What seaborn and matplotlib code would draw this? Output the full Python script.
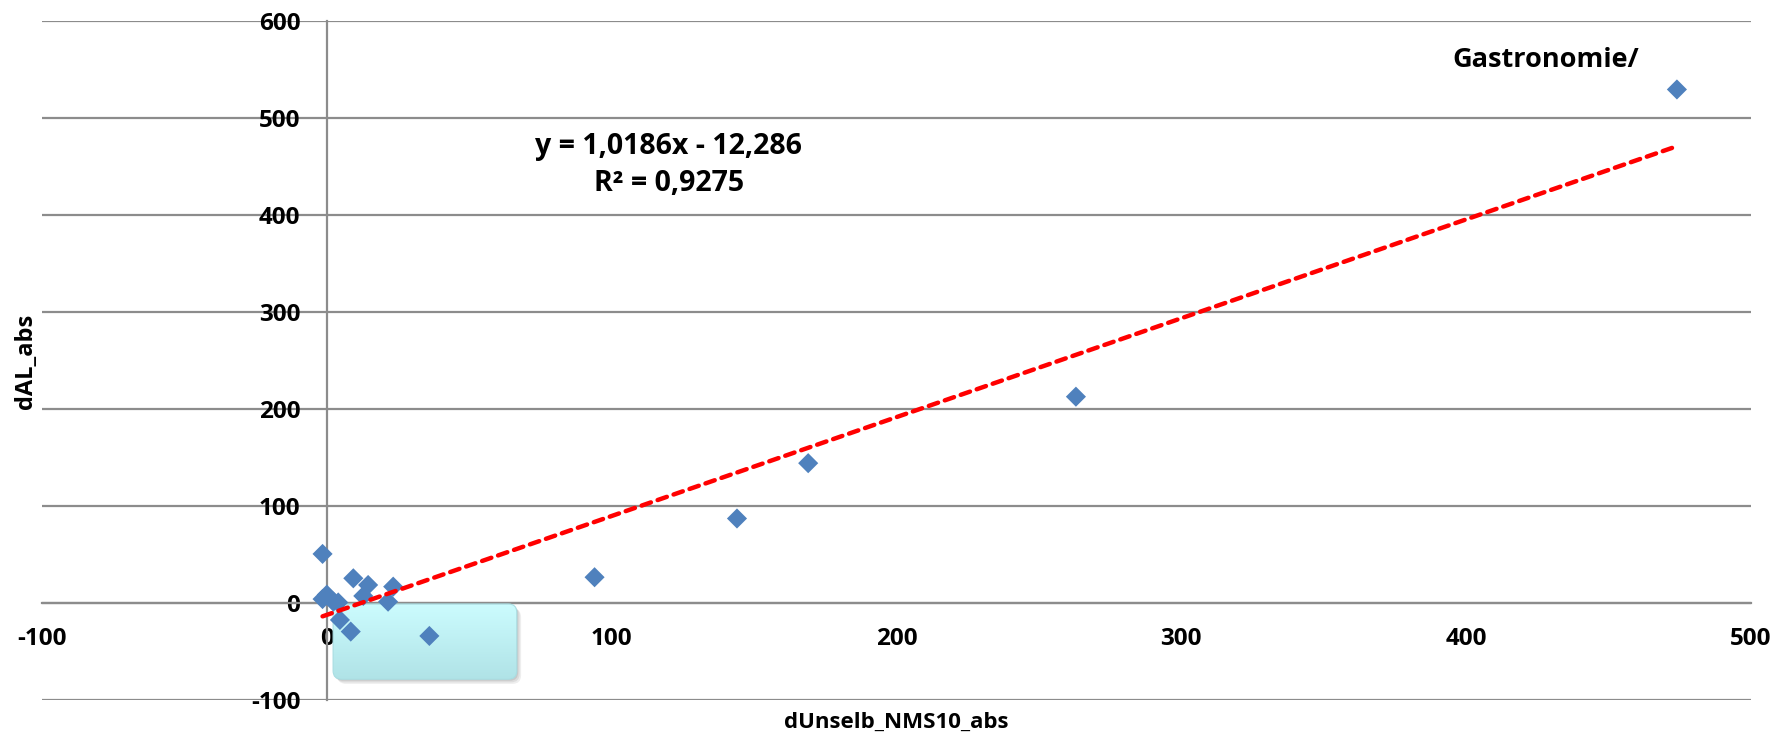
import numpy as np
import seaborn as sns
import matplotlib
matplotlib.use("Agg")
import matplotlib.pyplot as plt
from matplotlib.patches import FancyBboxPatch

# Werte
x_vals = [474, 263, 169, 144, 94, 36, -1.5, 9.3, 14.5, 23.3, 12.8, 21.5,
          0.0, 2.3, -1.5, 4.0, 4.6, 8.4]
y_vals = [529, 212.5, 144, 87, 26.5, -34, 50.5, 25.4, 18.5, 16.8, 7.2, 1.3,
          8.5, 1.3, 4.0, 0.5, -17.5, -29.5]
slope = 1.0186
intercept = -12.286
x_ticks = [-100, 0, 100, 200, 300, 400, 500]
y_ticks = [-100, 0, 100, 200, 300, 400, 500, 600]
eq_text = "y = 1,0186x - 12,286"
r2_text = "R² = 0,9275"
label_text = "Gastronomie/"

sns.set_style("white")
plt.rcParams['font.family'] = ['Open Sans', 'DejaVu Sans']
plt.rcParams['font.weight'] = 'bold'
plt.rcParams['axes.unicode_minus'] = False
plt.rcParams['text.color'] = 'black'
plt.rcParams['xtick.color'] = 'black'
plt.rcParams['ytick.color'] = 'black'

fig = plt.figure(figsize=(17.91, 7.34), dpi=100)
ax = fig.add_axes([0.02345, 0.0463, 0.9542, 0.9257])
ax.set_xlim(-100, 500)
ax.set_ylim(-100, 600)

# Gitterlinien und Achsen
grid_col = '#8c8c8c'
ax.set_yticks(y_ticks)
ax.set_xticks(x_ticks)
ax.yaxis.grid(True, color=grid_col, lw=1.6, zorder=0)
ax.xaxis.grid(False)
for s in ['top', 'right']:
    ax.spines[s].set_visible(False)
ax.spines['left'].set_position(('data', 0))
ax.spines['bottom'].set_position(('data', 0))
ax.spines['left'].set_color(grid_col)
ax.spines['bottom'].set_color(grid_col)
ax.spines['left'].set_linewidth(1.6)
ax.spines['bottom'].set_linewidth(1.6)
ax.tick_params(axis='both', length=0, labelsize=17.5, labelcolor='black')
ax.tick_params(axis='y', pad=19)
ax.tick_params(axis='x', pad=17)
ax.set_axisbelow(True)

# hellblaues Kästchen mit Verlauf und Schatten
bx0, bx1, by0, by1 = 2.2, 66.7, -78.6, -1.0
asp = 2.93
for k, a in [(3, 0.10), (2, 0.12), (1, 0.15)]:
    sh = FancyBboxPatch((bx0 + 0.5 * k, by0 - 1.6 * k), bx1 - bx0, by1 - by0,
                        boxstyle="round,pad=0,rounding_size=3",
                        mutation_aspect=asp, fc='#606060', ec='none',
                        alpha=a, zorder=2)
    ax.add_patch(sh)
box = FancyBboxPatch((bx0, by0), bx1 - bx0, by1 - by0,
                     boxstyle="round,pad=0,rounding_size=3",
                     mutation_aspect=asp, fc='none', ec='#a8dde2', lw=0.8,
                     zorder=3)
ax.add_patch(box)
grad = np.linspace(0, 1, 100).reshape(-1, 1)
cmap = matplotlib.colors.LinearSegmentedColormap.from_list('c', ['#b0e3e7', '#ccfcfe'])
im = ax.imshow(grad, extent=[bx0, bx1, by0, by1], origin='lower', cmap=cmap,
               aspect='auto', zorder=2.5)
im.set_clip_path(box)
ax.set_xlim(-100, 500)
ax.set_ylim(-100, 600)

# Punkte
sns.scatterplot(x=x_vals, y=y_vals, marker='D', s=105, color='#4f81bd',
                edgecolor='none', linewidth=0, ax=ax, zorder=4)

# Trendlinie
tx = np.array([min(x_vals), max(x_vals)])
ax.plot(tx, slope * tx + intercept, color='#ff0000', lw=3.2,
        dashes=(2.2, 1.6), dash_capstyle='round', zorder=5)

ax.text(120, 470, eq_text, ha='center', va='center', fontsize=20.5, fontweight='bold')
ax.text(120, 432, r2_text, ha='center', va='center', fontsize=20.5, fontweight='bold')
ax.text(428, 559, label_text, ha='center', va='center', fontsize=19.5, fontweight='bold')

fig.text(896 / 1791, 1 - 722 / 734, "dUnselb_NMS10_abs", ha='center', va='center',
         fontsize=16, fontweight='bold')
fig.text(26 / 1791, 1 - 361 / 734, "dAL_abs", ha='center', va='center',
         rotation=90, fontsize=17, fontweight='bold')

fig.savefig('out.png', dpi=100)
